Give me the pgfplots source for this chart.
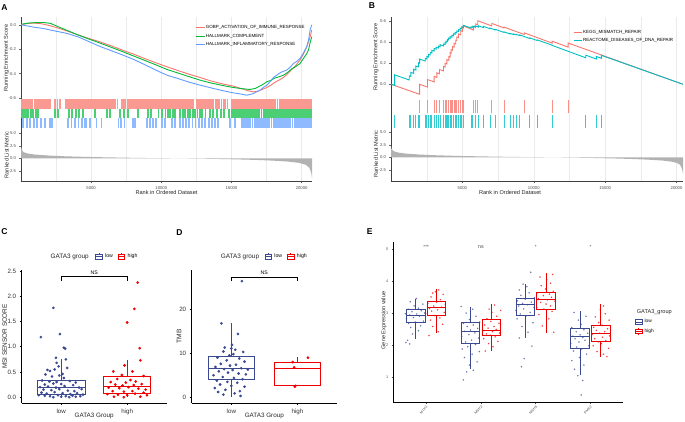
\documentclass[border=0pt]{standalone}
\usepackage{pgfplots}
\pgfplotsset{compat=1.18}
\usepgfplotslibrary{statistics}
\usepackage{fontspec}
\setmainfont{Liberation Sans}
\newcommand{\fs}[1]{\fontsize{#1}{#1}\selectfont}
\definecolor{ggred}{HTML}{F8766D}
\definecolor{gggreen}{HTML}{00BA38}
\definecolor{ggblue}{HTML}{619CFF}
\definecolor{ggcyan}{HTML}{00BFC4}
\definecolor{aaasblue}{HTML}{3B4992}
\definecolor{aaasred}{HTML}{EE0000}
\definecolor{gridgray}{HTML}{EBEBEB}
\definecolor{tickgray}{HTML}{4D4D4D}
\pgfplotsset{
  gsea/.style={
    scale only axis, anchor=south west,
    axis lines*=left, axis line style={-, draw=black!75, line width=0.5pt},
    tick align=outside, major tick length=1.6pt, minor tick length=0pt,
    tick style={draw=black!60, line width=0.4pt},
    ticklabel style={font=\fs{4.2}, text=tickgray},
    /pgf/number format/assume math mode=true,
    /pgf/number format/1000 sep={},
    scaled x ticks=false,
    xmin=0,
    xtick={5000,10000,15000,20000},
    minor xtick={2500,7500,12500,17500},
    xmajorgrids, xminorgrids,
    major grid style={draw=gridgray, line width=0.5pt},
    minor grid style={draw=gridgray, line width=0.4pt},
  },
  gseanox/.style={xticklabels={}, x axis line style={draw=none}, xmajorticks=false, xminorticks=false},
  hitaxis/.style={gsea, gseanox, ymin=0, ymax=1, ytick=\empty},
  esfmt/.style={yticklabel style={/pgf/number format/fixed, /pgf/number format/fixed zerofill, /pgf/number format/precision=1}},
  hitA/.style={ycomb, line width=1.9pt},
  hitB/.style={ycomb, line width=0.9pt},
  boxkey/.style={legend image code/.code={\draw[##1, line width=0.6pt] (0pt,-2.2pt) rectangle (6.5pt,2.2pt); \draw[##1, line width=0.6pt] (0pt,0pt) -- (6.5pt,0pt); \draw[##1, line width=0.6pt] (3.25pt,2.2pt) -- (3.25pt,3.4pt) (3.25pt,-2.2pt) -- (3.25pt,-3.4pt);}},
}
\begin{document}
\begin{tikzpicture}
\path[use as bounding box] (0pt,0pt) rectangle (685pt,422pt);
% panel letters
\node[font=\fs{8.5}\bfseries] at (4.5pt,414pt) {A};
\node[font=\fs{8.5}\bfseries] at (372pt,416pt) {B};
\node[font=\fs{8.5}\bfseries] at (4.5pt,190pt) {C};
\node[font=\fs{8.5}\bfseries] at (179.5pt,189.5pt) {D};
\node[font=\fs{8.5}\bfseries] at (369.7pt,190pt) {E};

% ================= A =================
\begin{axis}[gsea, gseanox, esfmt, at={(21pt,323pt)}, width=291pt, height=81.5pt,
  xmax=20740, ymin=-0.607, ymax=0.06, ytick={-0.6,-0.4,-0.2,0},
  legend style={at={(0.6,0.91)}, anchor=north west, draw=none, fill=none, font=\fs{4.5}, row sep=2.6pt, inner sep=0pt, nodes={inner sep=0.6pt, anchor=west}},
  legend cell align=left,
  legend image code/.code={\draw[#1, line width=0.9pt] (0pt,0pt) -- (8.5pt,0pt);}]
\addplot[ggred, line width=0.9pt] coordinates {(0,0)(400,0.01)(900,0.014)(1400,0.01)(2000,-0.005)(2600,-0.025)(3272,-0.05)(4000,-0.08)(4800,-0.11)(5647,-0.14)(6500,-0.175)(7300,-0.21)(8021,-0.24)(8800,-0.275)(9600,-0.31)(10396,-0.343)(11200,-0.375)(12000,-0.405)(12770,-0.431)(13500,-0.458)(14300,-0.482)(15145,-0.502)(15800,-0.525)(16200,-0.54)(16569,-0.549)(16900,-0.543)(17200,-0.528)(17519,-0.513)(17800,-0.495)(18100,-0.47)(18400,-0.452)(18707,-0.431)(19000,-0.4)(19300,-0.365)(19600,-0.33)(19894,-0.288)(20131,-0.24)(20369,-0.178)(20550,-0.12)(20650,-0.08)(20725,-0.041)};
\addlegendentry{GOBP\_ACTIVATION\_OF\_IMMUNE\_RESPONSE}
\addplot[gggreen, line width=0.9pt] coordinates {(0,0.004)(500,0.014)(1000,0.018)(1600,0.019)(2100,0.012)(2700,-0.018)(3272,-0.045)(4000,-0.08)(4800,-0.115)(5647,-0.15)(6500,-0.187)(7300,-0.222)(8021,-0.255)(8800,-0.29)(9600,-0.327)(10396,-0.365)(11200,-0.395)(12000,-0.425)(12770,-0.453)(13500,-0.475)(14300,-0.495)(15145,-0.513)(15700,-0.522)(16332,-0.529)(16700,-0.52)(17044,-0.5)(17282,-0.485)(17519,-0.466)(17800,-0.455)(18100,-0.435)(18400,-0.425)(18707,-0.412)(19000,-0.39)(19300,-0.36)(19600,-0.34)(19894,-0.316)(20131,-0.275)(20369,-0.235)(20487,-0.206)(20600,-0.15)(20725,-0.096)};
\addlegendentry{HALLMARK\_COMPLEMENT}
\addplot[ggblue, line width=0.9pt] coordinates {(0,0)(400,-0.008)(900,-0.019)(1600,-0.03)(2400,-0.05)(3272,-0.07)(4100,-0.1)(4900,-0.14)(5647,-0.178)(6400,-0.21)(7200,-0.245)(8021,-0.283)(8800,-0.325)(9600,-0.37)(10396,-0.412)(11200,-0.44)(12000,-0.47)(12770,-0.494)(13500,-0.515)(14300,-0.537)(15145,-0.557)(15600,-0.565)(16094,-0.576)(16500,-0.565)(17044,-0.535)(17300,-0.51)(17519,-0.494)(17800,-0.46)(18000,-0.43)(18232,-0.412)(18500,-0.39)(18944,-0.37)(19200,-0.345)(19419,-0.316)(19650,-0.3)(19894,-0.274)(20131,-0.23)(20369,-0.178)(20500,-0.12)(20606,-0.041)(20725,0.0)};
\addlegendentry{HALLMARK\_INFLAMMATORY\_RESPONSE}
\end{axis}
\begin{axis}[hitaxis, at={(21pt,313.4pt)}, width=291pt, height=9.6pt, xmax=20740]
\addplot[ggred!75, hitA] table[x index=0, y expr=1, header=false, row sep=\\] {30\\160\\280\\420\\560\\700\\820\\960\\1100\\1230\\1380\\1500\\1650\\1790\\1920\\2080\\2450\\2600\\2760\\3170\\3300\\3450\\3590\\3720\\3880\\4010\\4150\\4300\\4430\\4580\\4720\\4860\\5010\\5150\\5280\\5430\\5570\\5700\\5850\\5990\\6130\\6270\\6420\\6560\\6700\\6880\\7160\\7300\\7440\\7590\\7720\\7870\\8010\\8150\\8290\\8430\\8570\\8720\\8860\\9000\\9140\\9290\\9430\\9570\\9710\\9860\\10000\\10140\\10290\\10430\\10570\\10710\\10860\\11000\\11140\\11280\\11430\\11570\\11710\\11860\\12000\\12140\\12260\\12570\\12710\\12850\\13000\\13140\\13280\\13430\\13570\\13710\\13860\\14000\\14140\\14290\\14430\\14570\\14720\\15060\\15200\\15340\\15480\\15620\\15760\\15900\\16040\\16180\\16320\\16460\\16600\\16740\\16880\\17020\\17160\\17300\\17440\\17580\\17720\\17860\\18000\\18140\\18280\\18420\\18560\\18700\\18840\\18980\\19120\\19260\\19400\\19540\\19680\\19820\\19960\\20100\\20240\\20380\\20520\\20660\\};
\end{axis}
\begin{axis}[hitaxis, at={(21pt,303.8pt)}, width=291pt, height=9.6pt, xmax=20740]
\addplot[gggreen!70, hitA] table[x index=0, y expr=1, header=false, row sep=\\] {40\\200\\360\\520\\700\\880\\1050\\1220\\2440\\2660\\3400\\3650\\3900\\4150\\4400\\5290\\6140\\6360\\7080\\7350\\7620\\8350\\9080\\9260\\9800\\10050\\10300\\10480\\10650\\10820\\10970\\11350\\11520\\11700\\11880\\12050\\12230\\12400\\12580\\12760\\12900\\13150\\13450\\13700\\14000\\14250\\14500\\14800\\15020\\15180\\15320\\15460\\15600\\15740\\15880\\16020\\16160\\16300\\16440\\16580\\16720\\16860\\17000\\17140\\17280\\17420\\17560\\17700\\17840\\17980\\18120\\18260\\18400\\18540\\18680\\18820\\18960\\19100\\19240\\19380\\19520\\19660\\19800\\19940\\20080\\20220\\20360\\20500\\20640\\};
\end{axis}
\begin{axis}[hitaxis, at={(21pt,294.2pt)}, width=291pt, height=9.6pt, xmax=20740]
\addplot[ggblue!70, hitA] table[x index=0, y expr=1, header=false, row sep=\\] {160\\400\\640\\900\\1150\\1400\\1680\\2060\\2180\\3380\\3600\\3850\\4100\\4350\\4550\\4670\\4910\\5380\\5740\\6950\\7150\\7380\\8000\\8110\\8950\\9170\\9430\\9640\\10020\\10240\\10760\\10980\\11350\\11560\\11780\\12000\\12220\\12440\\12660\\12880\\13130\\13380\\13620\\13850\\14060\\14920\\15240\\15750\\15900\\16050\\16200\\16350\\16500\\16650\\16800\\16950\\17100\\17250\\17400\\17550\\17700\\17850\\18000\\18150\\18300\\18450\\18600\\18750\\18900\\19050\\19200\\19350\\19500\\19650\\19800\\19950\\20100\\20250\\20400\\20550\\20700\\};
\end{axis}
\begin{axis}[gsea, at={(21pt,240.3pt)}, width=291pt, height=53.4pt,
  xmax=20740, ymin=-4.69, ymax=6.02, ytick={-2.5,0,2.5,5},
  yticklabel style={/pgf/number format/fixed, /pgf/number format/fixed zerofill, /pgf/number format/precision=1}]
\addplot[fill=black!30, draw=none] coordinates {(1,2.6)(50,1.8)(150,1.3)(300,1.1)(600,0.9)(1000,0.75)(2000,0.55)(3000,0.42)(4000,0.33)(5000,0.26)(6000,0.2)(7000,0.15)(8000,0.1)(9000,0.06)(10000,0.03)(11000,0.0)(12000,-0.04)(13000,-0.08)(14000,-0.13)(15000,-0.19)(16000,-0.26)(17000,-0.35)(18000,-0.47)(19000,-0.65)(19800,-0.9)(20300,-1.3)(20550,-1.9)(20680,-2.8)(20740,-4.0)} \closedcycle;
\end{axis}
\node[rotate=90, font=\fs{5.6}, text=black!85] at (6.5pt,364pt) {Running Enrichment Score};
\node[rotate=90, font=\fs{5.6}, text=black!85] at (6.5pt,267pt) {Ranked List Metric};
\node[font=\fs{5.6}, text=black!85] at (166.5pt,229.7pt) {Rank in Ordered Dataset};

% ================= B =================
\begin{axis}[gsea, gseanox, esfmt, at={(391pt,323pt)}, width=292pt, height=81.7pt,
  xmax=20450, ymin=-0.14, ymax=0.638, ytick={0,0.2,0.4,0.6},
  legend style={at={(0.623,0.855)}, anchor=north west, draw=none, fill=none, font=\fs{4.5}, row sep=2.6pt, inner sep=0pt, nodes={inner sep=0.6pt, anchor=west}},
  legend cell align=left,
  legend image code/.code={\draw[#1, line width=0.9pt] (0pt,0pt) -- (8.5pt,0pt);}]
\addplot[ggred, line width=0.9pt] coordinates {(0,0)(2000,-0.095)(2000,0.0)(2558,-0.027)(2558,0.045)(3024,0.022)(3024,0.075)(3210,0.066)(3210,0.11)(3397,0.10)(3397,0.14)(3676,0.127)(3676,0.17)(3792,0.164)(3792,0.20)(3909,0.194)(3909,0.235)(4048,0.228)(4048,0.265)(4142,0.26)(4142,0.30)(4211,0.296)(4211,0.33)(4305,0.325)(4305,0.36)(4421,0.354)(4421,0.39)(4537,0.384)(4537,0.42)(4607,0.416)(4607,0.45)(4724,0.444)(4724,0.48)(4887,0.471)(4887,0.51)(5003,0.504)(5003,0.54)(5073,0.536)(5073,0.555)(5771,0.517)(5771,0.55)(5934,0.541)(5934,0.575)(6074,0.567)(6074,0.605)(7052,0.556)(7052,0.58)(7913,0.537)(7913,0.545)(9333,0.474)(9333,0.49)(11289,0.392)(11289,0.41)(12406,0.354)(12406,0.393)(20450,0.0)};
\addlegendentry{KEGG\_MISMATCH\_REPAIR}
\addplot[ggcyan, line width=0.9pt] coordinates {(0,0)(254,-0.01)(254,0.09)(1278,0.041)(1278,0.08)(1394,0.0744)(1394,0.1134)(1581,0.1044)(1581,0.1434)(1744,0.1356)(1744,0.1746)(1930,0.1657)(1930,0.2047)(2000,0.2013)(2000,0.2403)(2396,0.2213)(2396,0.2463)(2512,0.2407)(2512,0.2657)(2628,0.2601)(2628,0.2851)(2745,0.2795)(2745,0.3045)(2861,0.2989)(2861,0.3239)(3024,0.3161)(3024,0.3411)(3164,0.3344)(3164,0.3529)(3327,0.3451)(3327,0.3636)(3443,0.358)(3443,0.3765)(3676,0.3653)(3676,0.3838)(3792,0.3782)(3792,0.3967)(3862,0.3933)(3862,0.4118)(3955,0.4073)(3955,0.4258)(4025,0.4224)(4025,0.4409)(4142,0.4353)(4142,0.4543)(4258,0.4487)(4258,0.4677)(4374,0.4621)(4374,0.4811)(4491,0.4755)(4491,0.4945)(4607,0.4889)(4607,0.5079)(4724,0.5023)(4724,0.5213)(4840,0.5157)(4840,0.5347)(4956,0.5291)(4956,0.5481)(5073,0.5425)(5073,0.5615)(5608,0.5358)(5608,0.5472)(5725,0.5416)(5725,0.553)(5888,0.5452)(5888,0.5566)(6120,0.5455)(6120,0.5569)(6470,0.5401)(6470,0.5515)(6935,0.5292)(6935,0.535)(7284,0.5182)(7284,0.524)(7913,0.4938)(7913,0.4996)(8332,0.4795)(8332,0.4853)(8565,0.4741)(8565,0.4799)(8751,0.471)(8751,0.4768)(9030,0.4634)(9030,0.4692)(9729,0.4356)(9729,0.4414)(10241,0.4168)(10241,0.4226)(11289,0.3723)(11289,0.37)(13640,0.2524)(13640,0.2774)(14385,0.2401)(14385,0.2651)(14734,0.2476)(14734,0.2756)(20450,0.0)};
\addlegendentry{REACTOME\_DISEASES\_OF\_DNA\_REPAIR}
\end{axis}
\begin{axis}[hitaxis, at={(391pt,308.5pt)}, width=292pt, height=14.5pt, xmax=20450]
\addplot[ggred!80, hitB] table[x index=0, y expr=0.93, header=false, row sep=\\] {2000\\2558\\3024\\3210\\3397\\3676\\3792\\3909\\4048\\4142\\4211\\4305\\4421\\4537\\4607\\4724\\4887\\5003\\5073\\5771\\5934\\6074\\7052\\7913\\9333\\11289\\12406\\};
\end{axis}
\begin{axis}[hitaxis, at={(391pt,294pt)}, width=292pt, height=14.5pt, xmax=20450]
\addplot[ggcyan!80, hitB] table[x index=0, y expr=0.93, header=false, row sep=\\] {254\\1278\\1394\\1581\\1744\\1930\\2000\\2396\\2512\\2628\\2745\\2861\\3024\\3164\\3327\\3443\\3676\\3792\\3862\\3955\\4025\\4142\\4258\\4374\\4491\\4607\\4724\\4840\\4956\\5073\\5608\\5725\\5888\\6120\\6470\\6935\\7284\\7913\\8332\\8565\\8751\\9030\\9729\\10241\\11289\\13640\\14385\\14734\\};
\end{axis}
\begin{axis}[gsea, at={(391pt,240.3pt)}, width=292pt, height=53.7pt,
  xmax=20450, ymin=-4.88, ymax=5.86, ytick={-2.5,0,2.5,5},
  yticklabel style={/pgf/number format/fixed, /pgf/number format/fixed zerofill, /pgf/number format/precision=1}]
\addplot[fill=black!30, draw=none] coordinates {(1,2.2)(40,1.7)(150,1.3)(300,1.1)(600,0.9)(1000,0.75)(2000,0.55)(3000,0.42)(4000,0.33)(5000,0.26)(6000,0.2)(7000,0.15)(8000,0.1)(9000,0.06)(10000,0.03)(11000,0.0)(12000,-0.04)(13000,-0.08)(14000,-0.13)(15000,-0.19)(16000,-0.26)(17000,-0.35)(18000,-0.47)(19000,-0.65)(19600,-0.85)(20000,-1.1)(20250,-1.5)(20380,-2.3)(20450,-3.3)} \closedcycle;
\end{axis}
\node[rotate=90, font=\fs{5.6}, text=black!85] at (375.8pt,365pt) {Running Enrichment Score};
\node[rotate=90, font=\fs{5.6}, text=black!85] at (375.8pt,268pt) {Ranked List Metric};
\node[font=\fs{5.6}, text=black!85] at (510pt,229.7pt) {Rank in Ordered Dataset};

% ================= C =================
\begin{axis}[scale only axis, anchor=south west, at={(21.7pt,19pt)}, width=145pt, height=133pt,
  xmin=0.4, xmax=2.6, ymin=-0.115, ymax=2.52,
  axis lines*=left, axis line style={-, line width=0.7pt},
  tick align=outside, major tick length=2pt, tick style={black, line width=0.6pt},
  xtick={1,2}, xticklabels={low,high}, ytick={0,0.5,1,1.5,2,2.5},
  yticklabel style={/pgf/number format/fixed, /pgf/number format/fixed zerofill, /pgf/number format/precision=1},
  ticklabel style={font=\fs{6.2}, text=black!80},
  /pgf/number format/assume math mode=true, clip=false,
  boxplot/draw direction=y, boxplot/whisker extend=0,
  legend style={at={(0.506,1.1)}, anchor=west, draw=none, fill=none, font=\fs{5.2}, inner sep=0pt, nodes={inner sep=0.8pt, anchor=west}},
  legend columns=2, /tikz/every even column/.append style={column sep=4pt}, /tikz/every odd column/.append style={column sep=2pt}, boxkey]
\addlegendimage{aaasblue}\addlegendentry{low}
\addlegendimage{aaasred}\addlegendentry{high}
\addplot[aaasblue, line width=0.85pt, forget plot, boxplot prepared={draw position=1, lower whisker=0, lower quartile=0.046, median=0.19, upper quartile=0.33, upper whisker=0.75, box extend=0.72}] coordinates {};
\addplot[aaasred, line width=0.85pt, forget plot, boxplot prepared={draw position=2, lower whisker=0, lower quartile=0.066, median=0.205, upper quartile=0.415, upper whisker=0.73, box extend=0.72}] coordinates {};
\addplot[only marks, mark=*, mark size=1.15pt, aaasblue, forget plot] coordinates {(0.88,1.77)(0.69,1.19)(0.98,1.25)(1.04,0.98)(1.06,0.96)(0.92,0.78)(1.07,0.75)(0.93,0.68)(0.96,0.61)(0.79,0.54)(0.83,0.52)(0.90,0.55)(1.09,0.58)(0.76,0.45)(1.02,0.46)(1.04,0.38)(0.86,0.41)(0.97,0.43)(0.71,0.33)(0.82,0.31)(0.93,0.30)(1.13,0.32)(1.22,0.29)(0.75,0.25)(0.88,0.27)(1.00,0.26)(1.18,0.24)(0.68,0.20)(0.80,0.21)(0.92,0.19)(1.05,0.22)(1.27,0.19)(0.73,0.15)(0.85,0.14)(0.97,0.16)(1.10,0.13)(1.20,0.12)(1.31,0.16)(0.70,0.09)(0.78,0.07)(0.90,0.10)(1.02,0.08)(1.14,0.06)(1.24,0.08)(0.66,0.04)(0.75,0.03)(0.83,0.02)(0.95,0.04)(1.07,0.02)(1.17,0.03)(1.29,0.02)(0.88,0.00)(1.00,0.01)(1.12,0.00)(1.22,0.01)(1.33,0.05)};
\addplot[only marks, mark=*, mark size=1.15pt, aaasred, forget plot] coordinates {(2.16,2.27)(2.11,1.75)(2.00,1.48)(2.19,0.97)(2.20,0.73)(1.96,0.63)(1.79,0.51)(2.08,0.51)(1.92,0.44)(2.25,0.42)(1.85,0.36)(2.05,0.34)(1.75,0.30)(1.98,0.29)(2.13,0.31)(1.82,0.25)(1.93,0.23)(2.10,0.24)(2.22,0.26)(1.72,0.19)(1.88,0.18)(2.02,0.20)(2.17,0.17)(2.28,0.15)(1.78,0.12)(1.95,0.11)(2.08,0.12)(2.25,0.09)(1.70,0.06)(1.86,0.05)(2.00,0.04)(2.12,0.07)(2.30,0.04)(1.80,0.01)(1.95,0.00)(2.20,0.01)};
\addplot[black, line width=0.6pt, forget plot] coordinates {(1,2.30)(1,2.39)(2,2.39)(2,2.30)};
\node[font=\fs{5.2}] at (axis cs:1.5,2.465) {NS};
\end{axis}
\node[font=\fs{6.4}, text=black!85] at (69.7pt,165.3pt) {GATA3 group};
\node[rotate=90, font=\fs{6.4}, text=black!85] at (4.6pt,85.5pt) {MSI SENSOR SCORE};
\node[font=\fs{6.3}, text=black!85] at (94.2pt,5.7pt) {GATA3 Group};

% ================= D =================
\begin{axis}[scale only axis, anchor=south west, at={(191.7pt,19pt)}, width=145.3pt, height=133pt,
  xmin=0.4, xmax=2.6, ymin=-1.3, ymax=28.93,
  axis lines*=left, axis line style={-, line width=0.7pt},
  tick align=outside, major tick length=2pt, tick style={black, line width=0.6pt},
  xtick={1,2}, xticklabels={low,high}, ytick={0,10,20},
  ticklabel style={font=\fs{6.2}, text=black!80},
  /pgf/number format/assume math mode=true, clip=false,
  boxplot/draw direction=y, boxplot/whisker extend=0,
  legend style={at={(0.5,1.1)}, anchor=west, draw=none, fill=none, font=\fs{5.2}, inner sep=0pt, nodes={inner sep=0.8pt, anchor=west}},
  legend columns=2, /tikz/every even column/.append style={column sep=4pt}, /tikz/every odd column/.append style={column sep=2pt}, boxkey]
\addlegendimage{aaasblue}\addlegendentry{low}
\addlegendimage{aaasred}\addlegendentry{high}
\addplot[aaasblue, line width=0.85pt, forget plot, boxplot prepared={draw position=1, lower whisker=0.1, lower quartile=4.0, median=6.5, upper quartile=9.2, upper whisker=16.8, box extend=0.7}] coordinates {};
\addplot[aaasred, line width=0.85pt, forget plot, boxplot prepared={draw position=2, lower whisker=2.6, lower quartile=2.6, median=6.6, upper quartile=7.9, upper whisker=9.2, box extend=0.7}] coordinates {};
\addplot[only marks, mark=*, mark size=1.15pt, aaasblue, forget plot] coordinates {(1.16,26.4)(0.85,16.8)(1.10,14.4)(1.01,11.9)(0.90,11.3)(1.00,11.1)(1.06,10.8)(0.88,10.4)(1.18,10.3)(0.97,9.5)(1.03,9.8)(0.79,9.0)(1.12,8.8)(0.93,8.4)(1.20,8.1)(0.84,7.6)(1.07,7.4)(0.98,7.2)(0.76,6.9)(1.15,6.6)(0.89,6.4)(1.02,6.2)(1.25,6.3)(0.81,5.9)(0.95,5.6)(1.11,5.4)(1.22,5.2)(0.73,5.0)(0.87,4.6)(1.04,4.4)(1.17,4.1)(0.78,3.8)(0.94,3.5)(1.09,3.3)(0.83,2.9)(1.00,2.6)(1.20,2.4)(0.75,2.1)(0.91,1.7)(1.13,1.4)(0.80,1.2)(1.05,0.9)(0.88,0.6)(1.14,0.3)};
\addplot[only marks, mark=*, mark size=1.15pt, aaasred, forget plot] coordinates {(2.16,9.0)(1.93,8.0)(1.95,6.8)(1.96,2.4)(1.97,2.6)};
\addplot[black, line width=0.6pt, forget plot] coordinates {(1,26.4)(1,27.3)(2,27.3)(2,26.4)};
\node[font=\fs{5.2}] at (axis cs:1.5,28.3) {NS};
\end{axis}
\node[font=\fs{6.4}, text=black!85] at (240pt,165.3pt) {GATA3 group};
\node[rotate=90, font=\fs{6.6}, text=black!85] at (179pt,85.5pt) {TMB};
\node[font=\fs{6.3}, text=black!85] at (264.3pt,5.7pt) {GATA3 Group};

% ================= E =================
\begin{axis}[scale only axis, anchor=south west, at={(393.3pt,19.3pt)}, width=230pt, height=161pt,
  xmin=0.4, xmax=4.6, ymin=0.21, ymax=5.22,
  axis lines*=left, axis line style={-, line width=1.1pt},
  tick align=outside, major tick length=1.6pt, tick style={black!70, line width=0.4pt},
  xtick={1,2,3,4}, xticklabels={MLH1,MSH2,MSH6,PMS2}, ytick={1,2,3,4,5},
  xticklabel style={rotate=45, anchor=north east, font=\fs{3.5}, inner sep=0.8pt},
  yticklabel style={font=\fs{3.8}},
  ticklabel style={text=tickgray},
  /pgf/number format/assume math mode=true, clip=false,
  boxplot/draw direction=y, boxplot/whisker extend=0,
  legend style={at={(1.051,0.526)}, anchor=north west, draw=none, fill=none, font=\fs{4.8}, inner sep=0pt, row sep=2.2pt, nodes={inner sep=0.8pt, anchor=west}},
  legend cell align=left, /tikz/every odd column/.append style={column sep=1.5pt}, boxkey]
\addlegendimage{aaasblue}\addlegendentry{low}
\addlegendimage{aaasred}\addlegendentry{high}
\addplot[aaasblue, line width=0.9pt, forget plot, boxplot prepared={draw position=0.81, lower whisker=2.19, lower quartile=2.70, median=2.94, upper quartile=3.10, upper whisker=3.43, box extend=0.34}] coordinates {};
\addplot[aaasred, line width=0.9pt, forget plot, boxplot prepared={draw position=1.19, lower whisker=2.39, lower quartile=2.92, median=3.16, upper quartile=3.36, upper whisker=3.74, box extend=0.34}] coordinates {};
\addplot[aaasblue, line width=0.9pt, forget plot, boxplot prepared={draw position=1.81, lower whisker=1.25, lower quartile=2.06, median=2.44, upper quartile=2.70, upper whisker=3.18, box extend=0.34}] coordinates {};
\addplot[aaasred, line width=0.9pt, forget plot, boxplot prepared={draw position=2.19, lower whisker=1.82, lower quartile=2.30, median=2.45, upper quartile=2.79, upper whisker=3.29, box extend=0.34}] coordinates {};
\addplot[aaasblue, line width=0.9pt, forget plot, boxplot prepared={draw position=2.81, lower whisker=2.21, lower quartile=2.94, median=3.27, upper quartile=3.46, upper whisker=3.91, box extend=0.34}] coordinates {};
\addplot[aaasred, line width=0.9pt, forget plot, boxplot prepared={draw position=3.19, lower whisker=2.39, lower quartile=3.10, median=3.41, upper quartile=3.65, upper whisker=4.24, box extend=0.34}] coordinates {};
\addplot[aaasblue, line width=0.9pt, forget plot, boxplot prepared={draw position=3.81, lower whisker=1.07, lower quartile=1.89, median=2.27, upper quartile=2.51, upper whisker=3.05, box extend=0.34}] coordinates {};
\addplot[aaasred, line width=0.9pt, forget plot, boxplot prepared={draw position=4.19, lower whisker=1.64, lower quartile=2.11, median=2.37, upper quartile=2.62, upper whisker=3.27, box extend=0.34}] coordinates {};
\addplot[only marks, mark=*, mark size=0.6pt, aaasblue, opacity=0.55, forget plot] coordinates {(0.63,2.08)(0.70,2.04)(0.66,2.15)(0.75,2.35)(0.86,2.45)(0.72,2.55)(0.90,2.60)(0.68,2.68)(0.80,2.72)(0.95,2.75)(0.64,2.82)(0.77,2.86)(0.88,2.90)(0.70,2.94)(0.83,2.97)(0.97,3.00)(0.74,3.04)(0.91,3.07)(0.67,3.12)(0.86,3.15)(0.78,3.22)(0.94,3.28)(0.71,3.35)(0.82,3.45)(0.62,2.98)(0.99,2.88)
(1.68,0.92)(1.74,1.17)(1.86,1.22)(1.79,1.38)(1.93,1.48)(1.70,1.62)(1.84,1.72)(1.97,1.80)(1.66,1.88)(1.76,1.95)(1.90,2.02)(1.72,2.10)(1.83,2.16)(1.96,2.22)(1.65,2.28)(1.78,2.33)(1.89,2.38)(1.70,2.43)(1.81,2.47)(1.94,2.52)(1.75,2.58)(1.86,2.63)(1.68,2.68)(1.98,2.72)(1.79,2.80)(1.91,2.90)(1.73,3.00)(1.85,3.12)(1.64,3.20)
(2.74,1.33)(2.79,1.58)(2.93,1.97)(2.70,2.22)(2.86,2.40)(2.75,2.58)(2.95,2.70)(2.66,2.82)(2.82,2.90)(2.72,2.97)(2.90,3.02)(2.64,3.08)(2.78,3.13)(2.97,3.17)(2.69,3.22)(2.85,3.26)(2.76,3.30)(2.92,3.34)(2.67,3.38)(2.81,3.43)(2.98,3.48)(2.73,3.55)(2.88,3.63)(2.70,3.72)(2.84,3.82)(2.77,3.90)(2.91,4.27)
(3.83,0.45)(3.86,0.90)(3.77,1.05)(3.71,1.25)(3.88,1.38)(3.66,1.52)(3.80,1.62)(3.93,1.72)(3.69,1.82)(3.84,1.88)(3.75,1.94)(3.97,1.98)(3.64,2.05)(3.79,2.10)(3.90,2.15)(3.72,2.20)(3.86,2.24)(3.68,2.28)(3.81,2.32)(3.95,2.37)(3.74,2.42)(3.88,2.48)(3.66,2.55)(3.83,2.65)(3.78,2.78)(3.92,2.90)(3.70,3.02)};
\addplot[only marks, mark=*, mark size=0.6pt, aaasred, opacity=0.55, forget plot] coordinates {(1.05,2.30)(1.22,2.42)(1.12,2.58)(1.30,2.65)(1.08,2.78)(1.25,2.85)(1.16,2.92)(1.02,2.98)(1.33,3.02)(1.10,3.06)(1.21,3.10)(1.06,3.14)(1.28,3.18)(1.14,3.22)(1.35,3.26)(1.03,3.30)(1.19,3.34)(1.26,3.42)(1.09,3.50)(1.31,3.58)(1.17,3.66)(1.23,3.72)(1.12,3.62)
(2.08,1.82)(2.22,1.95)(2.14,2.05)(2.31,2.12)(2.05,2.20)(2.26,2.26)(2.17,2.31)(2.10,2.35)(2.34,2.38)(2.21,2.42)(2.03,2.45)(2.28,2.49)(2.13,2.53)(2.24,2.58)(2.07,2.63)(2.33,2.68)(2.18,2.74)(2.11,2.82)(2.29,2.90)(2.20,3.02)(2.15,3.12)(2.36,3.08)(2.25,3.25)
(3.33,2.40)(3.12,2.60)(3.24,2.82)(3.06,2.95)(3.30,3.05)(3.15,3.12)(3.02,3.18)(3.27,3.22)(3.19,3.28)(3.09,3.33)(3.35,3.37)(3.22,3.41)(3.05,3.45)(3.29,3.49)(3.14,3.54)(3.25,3.59)(3.03,3.63)(3.32,3.68)(3.18,3.75)(3.10,3.85)(3.27,3.93)(3.20,4.05)(3.08,4.12)(3.31,4.20)
(4.30,1.64)(4.24,1.72)(4.12,1.80)(4.33,1.90)(4.05,1.98)(4.20,2.05)(4.14,2.10)(4.28,2.14)(4.08,2.20)(4.22,2.25)(4.35,2.29)(4.03,2.33)(4.17,2.37)(4.26,2.42)(4.11,2.46)(4.31,2.51)(4.06,2.56)(4.21,2.62)(4.15,2.70)(4.34,2.78)(4.09,2.88)(4.27,2.98)(4.18,3.10)(4.24,3.22)};
\node[font=\fs{4.6}, text=black!75] at (axis cs:1,5.05) {***};
\node[font=\fs{5.2}, text=black!75] at (axis cs:2,5.05) {ns};
\node[font=\fs{4.6}, text=black!75] at (axis cs:3,5.05) {*};
\node[font=\fs{4.6}, text=black!75] at (axis cs:4,5.05) {*};
\end{axis}
\node[font=\fs{5.6}, text=black!85, anchor=west] at (633.3pt,110.3pt) {GATA3\_group};
\node[rotate=90, font=\fs{5.6}, text=black!85] at (383.8pt,101.5pt) {Gene Expression value};
\end{tikzpicture}
\end{document}
